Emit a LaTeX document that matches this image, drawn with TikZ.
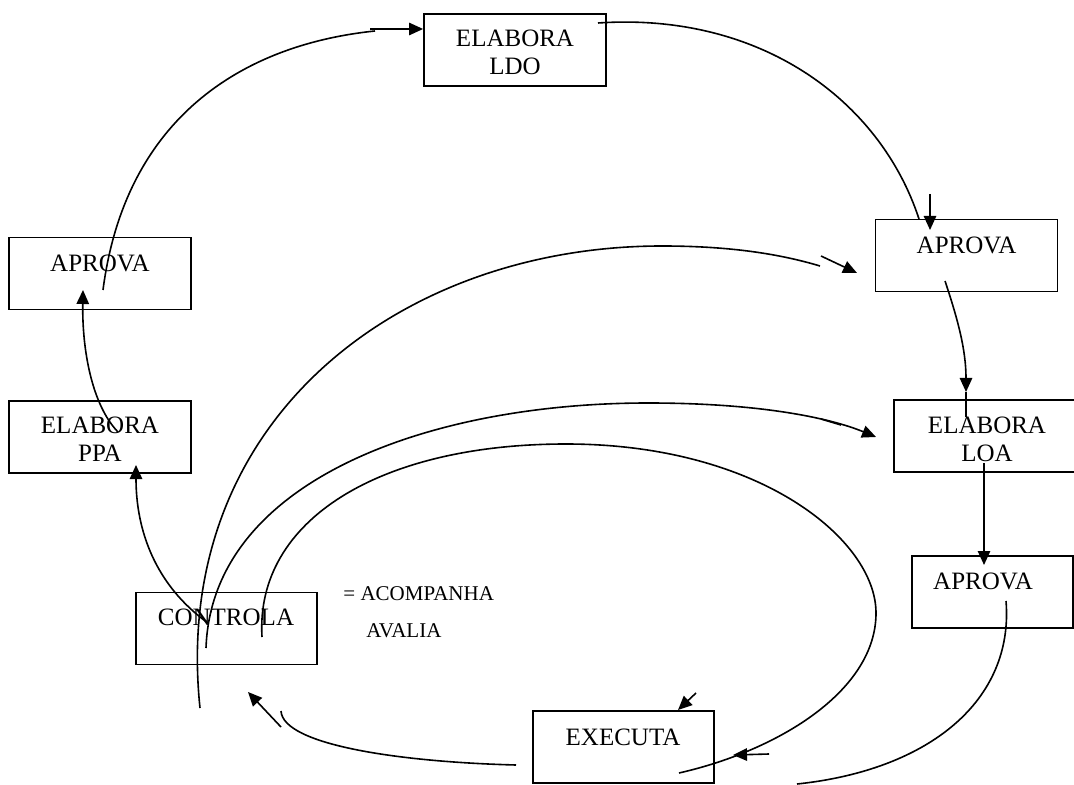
\documentclass[tikz,border=0pt]{standalone}
\usepackage{fontspec}
\setmainfont{Liberation Serif}
\usetikzlibrary{arrows.meta}
\begin{document}
\begin{tikzpicture}[x=0.5pt,y=-0.5pt,
  box/.style={draw, line width=0.9pt, inner sep=0pt, minimum height=36pt},
  lbl/.style={font=\fontsize{12.5}{14}\selectfont, align=center, inner sep=0pt},
  small/.style={font=\fontsize{10.5}{12}\selectfont, inner sep=0pt, anchor=west},
  conn/.style={line width=0.8pt},
  arr/.style={line width=0.8pt, -{Triangle[length=7pt,width=6.2pt]}}]
\useasboundingbox (0,0) rectangle (1074,785);

% boxes
\node[box, minimum width=91pt] (ldo) at (515,50) {};
\node[box, minimum width=91pt] (apL) at (100,273.5) {};
\node[box, minimum width=91pt] (ppa) at (100,437) {};
\node[box, minimum width=91pt] (apR) at (966.5,255.5) {};
\node[box, minimum width=91pt] (loa) at (985,436) {};
\node[box, minimum width=80.5pt] (apB) at (992.5,592) {};
\node[box, minimum width=90.5pt] (ctl) at (226.5,628.5) {};
\node[box, minimum width=90.5pt] (exe) at (623.5,747) {};

% texts
\node[lbl] (ldoT) at (515,52) {ELABORA\\LDO};
\node[lbl] (apLT) at (100,263) {APROVA};
\node[lbl] (ppaT) at (100,439) {ELABORA\\PPA};
\node[lbl] (apRT) at (966.5,245) {APROVA};
\node[lbl] (loaT) at (987,439) {ELABORA\\LOA};
\node[lbl] (apBT) at (983,581) {APROVA};
\node[lbl] (ctlT) at (226,617) {CONTROLA};
\node[lbl] (exeT) at (623,737) {EXECUTA};
\node[small] (acT) at (343,594) {= ACOMPANHA};
\node[small] (avT) at (366,631) {AVALIA};

% connector end points
\coordinate (a0) at (103,290);
\coordinate (a1) at (375,31);
\coordinate (a2) at (370,29);
\coordinate (b0) at (598,23);
\coordinate (b1) at (919,219);
\coordinate (b2) at (930,194);
\coordinate (c0) at (945,281);
\coordinate (c1) at (966,392);
\coordinate (c2) at (966,417);
\coordinate (d0) at (984,463);
\coordinate (d1) at (984,565);
\coordinate (e0) at (1006,601);
\coordinate (e1) at (797,784);
\coordinate (f0) at (262,637);
\coordinate (f1) at (566,444);
\coordinate (f2) at (876,613);
\coordinate (f3) at (679,773);
\coordinate (f4) at (769,754);
\coordinate (f5) at (733,755);
\coordinate (g0) at (206,648);
\coordinate (g1) at (648,403);
\coordinate (g2) at (876,437);
\coordinate (g3) at (821,419);
\coordinate (g4) at (841,425);
\coordinate (h0) at (200,708);
\coordinate (h2) at (662,246);
\coordinate (h3) at (820,266);
\coordinate (h4) at (821,256);
\coordinate (h5) at (857,273);
\coordinate (i0) at (208,623);
\coordinate (i1) at (136,465);
\coordinate (j0) at (118,432);
\coordinate (j1) at (83,290);
\coordinate (k0) at (516,765);
\coordinate (k1) at (281,711);
\coordinate (k2) at (281,727);
\coordinate (k3) at (248,692);
\coordinate (l0) at (696,693);
\coordinate (l1) at (678,710);

% connectors
\draw[conn] (a0) .. controls (125,120) and (240,45) .. (a1);
\draw[arr] (a2) -- (ldo.west |- a2);
\draw[conn] (b0) .. controls (760,12) and (880,100) .. (b1);
\draw[arr] (b2) -- (930,230);
\draw[arr] (c0) .. controls (958,320) and (966,350) .. (c1);
\draw[conn] (c1) -- (c2);
\draw[arr] (d0) -- (d1);
\draw[conn] (e0) .. controls (1014,700) and (930,770) .. (e1);
\draw[conn] (f0) .. controls (255,520) and (380,444) .. (f1)
  .. controls (760,444) and (876,540) .. (f2)
  .. controls (876,690) and (780,750) .. (f3);
\draw[arr] (f4) -- (f5);
\draw[arr] (g0) .. controls (212,480) and (430,403) .. (g1)
  .. controls (760,403) and (830,418) .. (g2);
\draw[conn] (g3) -- (g4);
\draw[conn] (h0) .. controls (170,420) and (400,246) .. (h2)
  .. controls (730,246) and (780,254) .. (h3);
\draw[arr] (h4) -- (h5);
\draw[arr] (i0) .. controls (155,585) and (136,530) .. (i1);
\draw[arr] (j0) .. controls (92,405) and (82,350) .. (j1);
\draw[conn] (k0) .. controls (400,762) and (283,745) .. (k1);
\draw[arr] (k2) -- (k3);
\draw[arr] (l0) -- (l1);
\end{tikzpicture}
\end{document}
